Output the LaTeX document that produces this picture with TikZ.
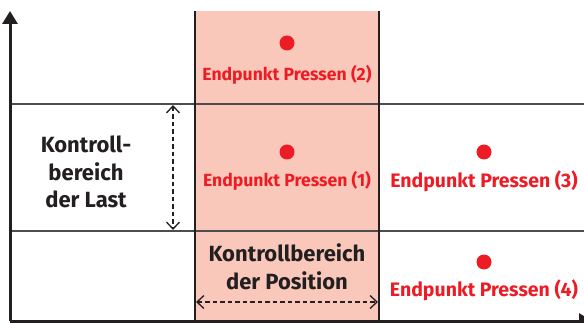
\documentclass[tikz,border=0pt]{standalone}
\usepackage{fontspec}
\setmainfont{Fira Sans}
\usetikzlibrary{arrows.meta}
\definecolor{pressred}{RGB}{237,28,36}
\definecolor{zonepink}{RGB}{250,200,186}
\definecolor{ink}{RGB}{35,31,32}
\begin{document}
\begin{tikzpicture}[x=1pt,y=-1pt,
  axisline/.style={line width=3pt,draw=ink,-{Triangle[width=15pt,length=13pt]}},
  gridline/.style={line width=1.4pt,draw=ink!80},
  colline/.style={line width=1.8pt,draw=ink},
  rangearrow/.style={line width=1.3pt,draw=ink,dash pattern=on 4.5pt off 3pt,
    {Straight Barb[length=7pt,width=13pt,line width=1.3pt]}-{Straight Barb[length=7pt,width=13pt,line width=1.3pt]}},
  enddot/.style={circle,fill=pressred,inner sep=0pt,minimum size=15pt},
  redlabel/.style={text=pressred,font=\bfseries\fontsize{17.6}{20}\selectfont,inner sep=0pt},
  biglabel/.style={text=pressred,font=\bfseries\fontsize{19.5}{22}\selectfont,inner sep=0pt},
  zonelabel/.style={text=ink,align=center,font=\bfseries\fontsize{22}{27.5}\selectfont,inner sep=0pt}]
\useasboundingbox (0,0) rectangle (584,323);

% shaded position zone
\fill[zonepink] (195,11) rectangle (379,321);

% key points of the frame
\coordinate (origin) at (10,321);
\coordinate (ytop) at (10,11);
\coordinate (xend) at (592,321);
\coordinate (gridA-l) at (10,104);
\coordinate (gridA-r) at (584,104);
\coordinate (gridB-l) at (10,231);
\coordinate (gridB-r) at (584,231);
\coordinate (colL-t) at (195,11);
\coordinate (colL-b) at (195,321);
\coordinate (colR-t) at (379,11);
\coordinate (colR-b) at (379,321);

% horizontal band borders
\draw[gridline] (gridA-l) -- (gridA-r);
\draw[gridline] (gridB-l) -- (gridB-r);

% borders of the position zone
\draw[colline] (colL-t) -- (colL-b);
\draw[colline] (colR-t) -- (colR-b);

% axes
\draw[axisline] (origin) -- (ytop);
\draw[axisline] (origin) -- (xend);

% range markers
\coordinate (loadTop) at (173,105);
\coordinate (loadBot) at (173,230);
\draw[rangearrow] (loadTop) -- (loadBot);
\coordinate (posL) at (196,302);
\coordinate (posR) at (378,302);
\draw[rangearrow] (posL) -- (posR);

% end points
\node[enddot] (p2) at (287,43) {};
\node[redlabel] (t2) at (287,75) {Endpunkt Pressen (2)};
\node[enddot] (p1) at (287,152) {};
\node[redlabel] (t1) at (287,181) {Endpunkt Pressen (1)};
\node[enddot] (p3) at (484,152) {};
\node[biglabel] (t3) at (484,181) {Endpunkt Pressen (3)};
\node[enddot] (p4) at (484,262) {};
\node[biglabel] (t4) at (484,290) {Endpunkt Pressen (4)};

% zone captions
\node[zonelabel] (load) at (86,172) {Kontroll-\\bereich\\der Last};
\node[zonelabel] (pos) at (287,267) {Kontrollbereich\\der Position};
\end{tikzpicture}
\end{document}
